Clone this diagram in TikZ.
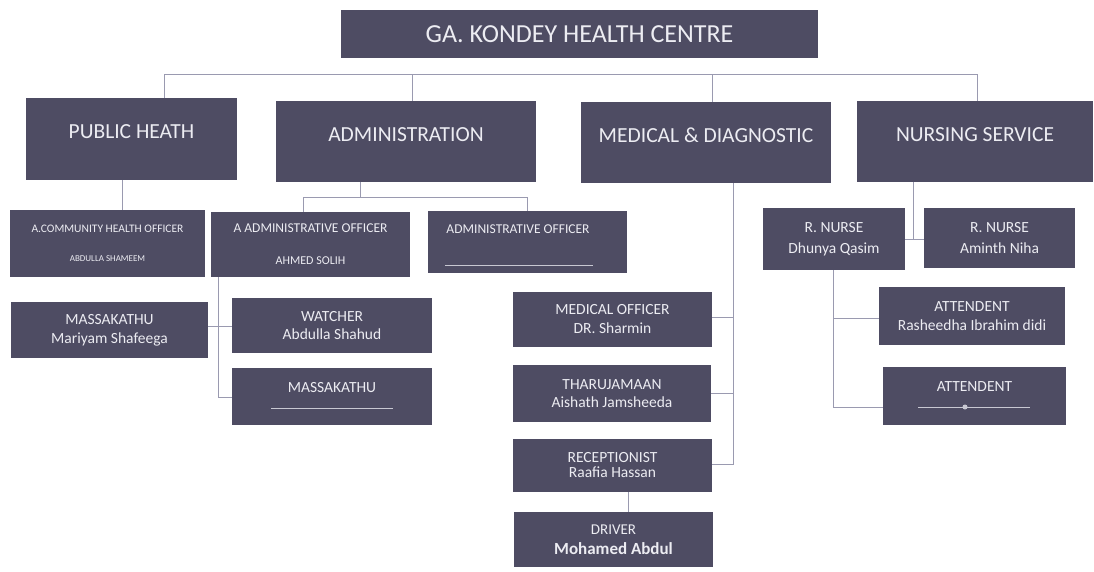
\documentclass[tikz,border=0pt]{standalone}
\usepackage{fontspec}
\setmainfont{Carlito}
\definecolor{boxc}{HTML}{4E4C63}
\definecolor{txtc}{HTML}{ECECF2}
\definecolor{linec}{HTML}{9A9AB0}
\definecolor{ulc}{HTML}{C8C8D2}
\newcommand\fs[1]{\fontsize{#1}{\fpeval{#1*1.22}}\selectfont}
\newcommand\obox[6]{\node[box,minimum width={(#4-#2)*1pt},minimum height={(#5-#3)*1pt}] (#1) at ({(#2+#4)/2},{(#3+#5)/2}) {#6};}
\tikzset{
  box/.style={fill=boxc, text=txtc, inner sep=0pt, align=center, draw=none},
  lbl/.style={text=txtc, inner sep=0pt, align=center},
  conn/.style={draw=linec, line width=0.8pt},
  uline/.style={draw=ulc, line width=0.6pt},
}
\begin{document}
\begin{tikzpicture}[x=1pt,y=-1pt]
\useasboundingbox[fill=white] (0,0) rectangle (1094,571);
% level 1
\obox{title}{341}{10}{818}{58}{\fs{26}GA. KONDEY HEALTH CENTRE}
% level 2
\obox{ph}{26}{98}{237}{180}{\fs{21.5}PUBLIC HEATH\\[2pt]}
\obox{adm}{276}{101}{536}{182}{\fs{21.5}ADMINISTRATION\\[2pt]}
\obox{med}{581}{102}{831}{183}{\fs{21.5}MEDICAL \& DIAGNOSTIC\\[2pt]}
\obox{nur}{857}{101}{1093}{182}{\fs{21.5}NURSING SERVICE\\[2pt]}
% public health
\obox{acho}{10}{210}{205}{277}{\fs{11.5}A.COMMUNITY HEALTH OFFICER\\[17pt]\fs{9}ABDULLA SHAMEEM}
\obox{mas1}{11}{302}{208}{358}{\fs{15.5}MASSAKATHU\\[7pt]\fs{15.5}Mariyam Shafeega}
% administration
\obox{aao}{211}{212}{410}{277}{\fs{13.5}A ADMINISTRATIVE OFFICER\\[20pt]\fs{12}AHMED SOLIH}
\obox{ao}{428}{211}{627}{273}{}
\node[lbl] (aoT) at (518,229) {\fs{13.5}ADMINISTRATIVE OFFICER};
\coordinate (aoU) at (445,265);
\draw[uline] (aoU) -- ++(148,0);
\obox{watch}{232}{298}{432}{353}{\fs{15.5}WATCHER\\[6pt]\fs{15.5}Abdulla Shahud}
\obox{mas2}{232}{368}{432}{425}{}
\node[lbl] (mas2T) at (332,388) {\fs{15.5}MASSAKATHU};
\coordinate (mas2U) at (271,408);
\draw[uline] (mas2U) -- ++(122,0);
% medical
\obox{mo}{513}{292}{712}{347}{\fs{15.5}MEDICAL OFFICER\\[7pt]\fs{15.5}DR. Sharmin}
\obox{thar}{513}{365}{711}{422}{\fs{15.5}THARUJAMAAN\\[6pt]\fs{15.5}Aishath Jamsheeda}
\obox{rec}{513}{439}{712}{492}{\fs{15.5}RECEPTIONIST\\[3pt]\fs{15.5}Raafia Hassan}
\obox{drv}{514}{512}{713}{567}{\fs{15}DRIVER\\[8pt]\fs{17}\bfseries Mohamed Abdul}
% nursing
\obox{rn1}{763}{208}{905}{270}{\fs{15.5}R. NURSE\\[9pt]\fs{15.5}Dhunya Qasim}
\obox{rn2}{924}{208}{1075}{268}{\fs{15.5}R. NURSE\\[9pt]\fs{15.5}Aminth Niha}
\obox{att1}{879}{287}{1065}{345}{\fs{15.5}ATTENDENT\\[7pt]\fs{15.5}Rasheedha Ibrahim didi}
\obox{att2}{883}{367}{1066}{425}{}
\node[lbl] (att2T) at (974.5,387) {\fs{15.5}ATTENDENT};
\coordinate (att2U) at (918,407);
\draw[uline] (att2U) -- ++(112,0);
\fill[ulc] (965,407) circle (2.5);
% top bus
\coordinate (b1) at (164,74);
\coordinate (b2) at (412,74);
\coordinate (b3) at (712,74);
\coordinate (b4) at (977,74);
\draw[conn] (b1 |- ph.north) -- (b1) -- (b4) -- (b4 |- nur.north);
\draw[conn] (b2) -- (b2 |- adm.north);
\draw[conn] (b3) -- (b3 |- med.north);
% public health
\coordinate (p1) at (122,180);
\draw[conn] (p1 |- ph.south) -- (p1 |- acho.north);
% administration
\coordinate (a0) at (360,197);
\coordinate (a1) at (303,197);
\coordinate (a2) at (527,197);
\draw[conn] (a0 |- adm.south) -- (a0);
\draw[conn] (a1 |- aao.north) -- (a1) -- (a2) -- (a2 |- ao.north);
\coordinate (a3) at (218,326);
\coordinate (a4) at (218,397);
\draw[conn] (a3 |- aao.south) -- (a4) -- (a4 -| mas2.west);
\draw[conn] (a3 -| mas1.east) -- (a3 -| watch.west);
% medical
\coordinate (m0) at (733,183);
\coordinate (m1) at (733,317);
\coordinate (m2) at (733,393);
\coordinate (m3) at (733,464);
\draw[conn] (m0 |- med.south) -- (m3) -- (m3 -| rec.east);
\draw[conn] (m1) -- (m1 -| mo.east);
\draw[conn] (m2) -- (m2 -| thar.east);
\coordinate (d0) at (628,492);
\draw[conn] (d0 |- rec.south) -- (d0 |- drv.north);
% nursing
\coordinate (n0) at (913,239);
\draw[conn] (n0 |- nur.south) -- (n0);
\draw[conn] (n0 -| rn1.east) -- (n0 -| rn2.west);
\coordinate (n1) at (833,318);
\coordinate (n2) at (833,407);
\draw[conn] (n1 |- rn1.south) -- (n2) -- (n2 -| att2.west);
\draw[conn] (n1) -- (n1 -| att1.west);
\end{tikzpicture}
\end{document}
